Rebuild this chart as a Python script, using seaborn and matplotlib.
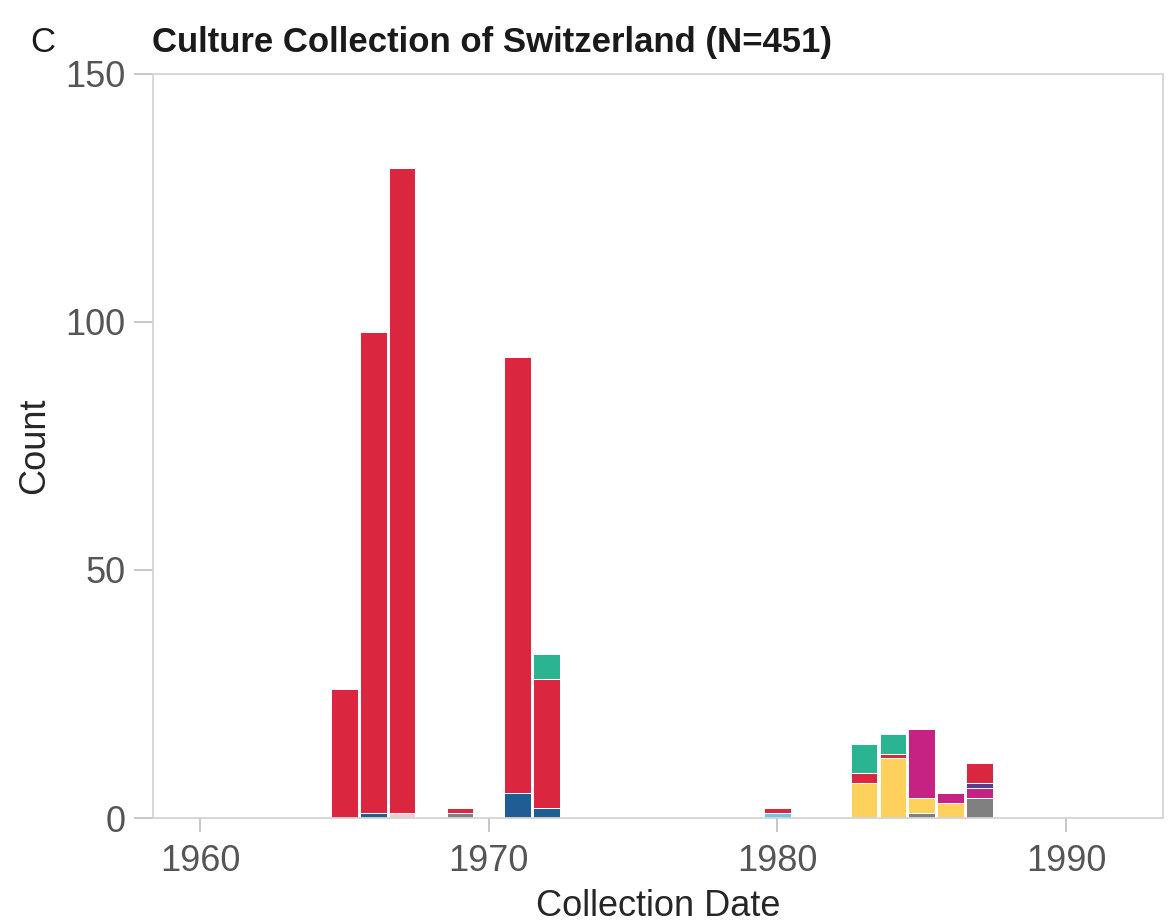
import matplotlib
matplotlib.use("Agg")
import matplotlib.pyplot as plt
import seaborn as sns
import pandas as pd

# Isolates per collection year, split by group (stacked bottom -> top)
years = [1965, 1966, 1967, 1969, 1971, 1972, 1980, 1983, 1984, 1985, 1986, 1987]
grey      = [0, 0, 0, 1, 0, 0, 0, 0, 0, 1, 0, 4]
lightblue = [0, 0, 0, 0, 0, 0, 1, 0, 0, 0, 0, 0]
pink      = [0, 0, 1, 0, 0, 0, 0, 0, 0, 0, 0, 0]
blue      = [0, 1, 0, 0, 5, 2, 0, 0, 0, 0, 0, 0]
yellow    = [0, 0, 0, 0, 0, 0, 0, 7, 12, 3, 3, 0]
magenta   = [0, 0, 0, 0, 0, 0, 0, 0, 0, 14, 2, 2]
purple    = [0, 0, 0, 0, 0, 0, 0, 0, 0, 0, 0, 1]
red       = [26, 97, 130, 1, 88, 26, 1, 2, 1, 0, 0, 4]
green     = [0, 0, 0, 0, 0, 5, 0, 6, 4, 0, 0, 0]

groups = {
    "grey": grey, "lightblue": lightblue, "pink": pink, "blue": blue,
    "yellow": yellow, "magenta": magenta, "purple": purple, "red": red,
    "green": green,
}
colors = {
    "grey": "#808080", "lightblue": "#6cc8ea", "pink": "#f6c9cf",
    "blue": "#215d95", "yellow": "#fdd15c", "magenta": "#c62284",
    "purple": "#5b3b8c", "red": "#db2640", "green": "#2bb491",
}

rows = []
for name, vals in groups.items():
    for y, v in zip(years, vals):
        rows.append({"year": y, "group": name, "count": v})
df = pd.DataFrame(rows)

sns.set_theme(style="white")
plt.rcParams["font.family"] = ["Liberation Sans", "DejaVu Sans"]

fig = plt.figure(figsize=(11.68, 9.24), dpi=100)
ax = fig.add_axes([0.131, 0.1147, 0.8647, 0.8053])

# seaborn stacks the last hue level at the bottom
hue_order = list(groups.keys())[::-1]
sns.histplot(
    data=df, x="year", weights="count", hue="group", hue_order=hue_order,
    palette=colors, multiple="stack", discrete=True, shrink=0.92,
    edgecolor="white", linewidth=0.7, alpha=1.0, legend=False, ax=ax,
)

ax.set_xlim(1958.37, 1993.36)
ax.set_ylim(0, 150)
ax.set_xticks([1960, 1970, 1980, 1990])
ax.set_yticks([0, 50, 100, 150])

for s in ax.spines.values():
    s.set_color("#d4d4d4")
    s.set_linewidth(1.3)

ax.tick_params(axis="y", which="major", direction="out", length=14,
               width=1.2, color="#bdbdbd", labelsize=26, labelcolor="#555555", pad=6,
               left=True)
ax.tick_params(axis="x", which="major", direction="out", length=10,
               width=1.2, color="#bdbdbd", labelsize=26, labelcolor="#555555", pad=9,
               bottom=True)

ax.set_xlabel("Collection Date", fontsize=26, color="#262626", labelpad=7)
ax.set_ylabel("Count", fontsize=26, color="#262626", labelpad=9)

fig.text(0.130, 0.954, "Culture Collection of Switzerland (N=451)",
         fontsize=25, fontweight="bold", color="#1a1a1a", ha="left", va="center")
fig.text(0.026, 0.954, "C", fontsize=25, color="#1a1a1a", ha="left", va="center")

fig.savefig("out.png", dpi=100)
